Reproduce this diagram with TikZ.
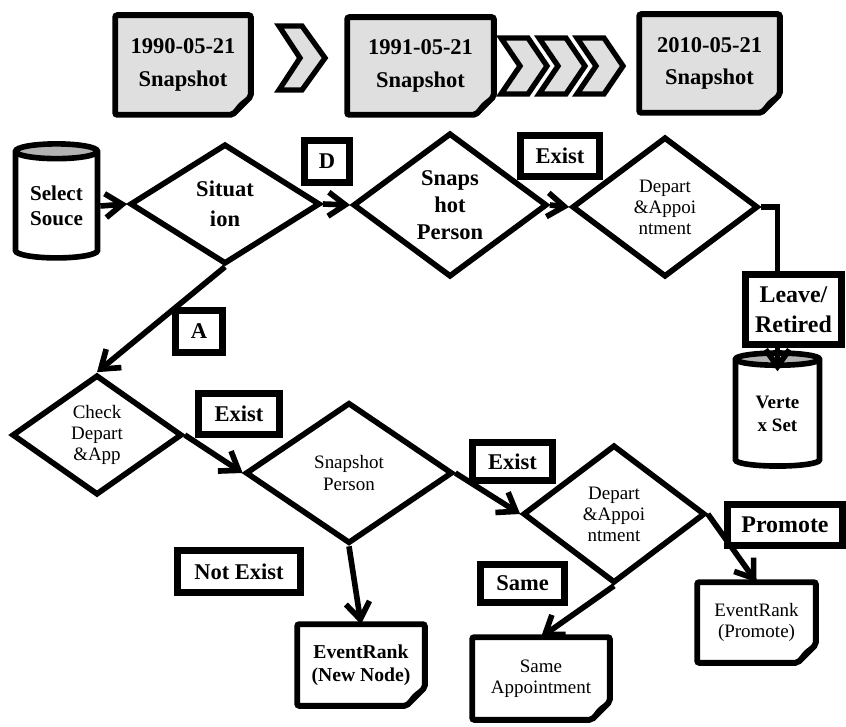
\documentclass[tikz,border=0pt]{standalone}
\usepackage{fontspec}
\setmainfont{Liberation Serif}
\usetikzlibrary{shapes.geometric,arrows.meta,backgrounds}

\newcommand{\snapfont}{\fontsize{16}{23}\selectfont\bfseries}
\newcommand{\tagfont}{\fontsize{16}{19}\selectfont\bfseries}
\newcommand{\bigthin}{\fontsize{17}{21}\selectfont\bfseries}
\newcommand{\thinfont}{\fontsize{13.5}{15}\selectfont}

\tikzstyle{decision} = [draw, diamond, line width=4pt, fill=white,
    inner sep=0pt, align=center]
\tikzstyle{tag} = [draw, rectangle, line width=4.4pt, fill=white,
    inner sep=0pt, align=center, font=\tagfont]
\tikzstyle{doc} = [rectangle, inner sep=0pt, align=center]
\tikzstyle{docline} = [draw, line width=4.2pt, rounded corners=1.5pt]
\tikzstyle{store} = [draw, cylinder, shape border rotate=90, aspect=0.28,
    line width=4pt, cylinder uses custom fill, cylinder end fill=gray!60,
    cylinder body fill=white, inner sep=0pt, align=center]
\tikzstyle{chev} = [draw, line width=3.8pt, fill=gray!25, line join=miter]
\tikzstyle{flow} = [line width=4pt, -{Straight Barb[length=12pt,width=17pt]}]
\tikzstyle{wire} = [line width=4pt]

% frame with folded corner behind a doc node
\newcommand{\docframe}[2]{%
  \draw[docline, fill=#2] (#1.north west) -- (#1.north east)
    -- ([yshift=13pt]#1.south east) -- ([xshift=-13pt]#1.south east)
    -- (#1.south west) -- cycle;
  \fill ([yshift=13pt]#1.south east)
    .. controls ([shift={(-6pt,12pt)}]#1.south east) and ([shift={(-12pt,6pt)}]#1.south east)
    .. ([xshift=-13pt]#1.south east) -- cycle;}

\begin{document}
\begin{tikzpicture}[x=0.025cm, y=-0.025cm]
\useasboundingbox (0,0) rectangle (846,727);

% timeline of snapshots
\node[doc, font=\snapfont, minimum width=3.375cm, minimum height=2.475cm] (snap1) at (183,65) {1990-05-21\\Snapshot};
\node[doc, font=\snapfont, minimum width=3.65cm, minimum height=2.425cm] (snap2) at (420.5,66) {1991-05-21\\Snapshot};
\node[doc, font=\snapfont, minimum width=3.5cm, minimum height=2.45cm] (snap3) at (709.5,63.5) {2010-05-21\\Snapshot};

\draw[chev] (279,26) -- ++(23,0) -- ++(23,32) -- ++(-23,32) -- ++(-23,0) -- ++(21,-32) -- cycle;
\foreach \x in {501,539,577}
  \draw[chev] (\x,38) -- ++(27,0) -- ++(19,28) -- ++(-19,28) -- ++(-27,0) -- ++(19,-28) -- cycle;

% upper row
\node[store, minimum width=2.05cm, minimum height=2.85cm, font=\fontsize{15}{17.5}\selectfont\bfseries] (src) at (56.5,206) {Select\\Souce};
\node[decision, minimum width=4.75cm, minimum height=3cm, font=\fontsize{16}{21}\selectfont\bfseries] (sit) at (225,204) {Situat\\ion};
\node[decision, minimum width=4.85cm, minimum height=3.6cm, font=\fontsize{16}{19}\selectfont\bfseries] (sp1) at (450,205) {Snaps\\hot\\Person};
\node[decision, minimum width=4.65cm, minimum height=3.5cm, font=\thinfont] (da1) at (665,207) {Depart\\\&Appoi\\ntment};

\node[tag, minimum width=1.125cm, minimum height=1.05cm] (tD) at (327,161.5) {D};
\node[tag, minimum width=1.975cm, minimum height=1.025cm] (tex1) at (560,156) {Exist};
\node[tag, minimum width=2.4cm, minimum height=1.75cm, font=\bigthin] (leave) at (793.5,309.5) {Leave/\\Retired};
\node[store, minimum width=2.1cm, minimum height=2.825cm, font=\fontsize{13.5}{16}\selectfont\bfseries] (vs) at (777.5,414) {Verte\\x Set};

% lower row
\node[tag, minimum width=1.175cm, minimum height=1.05cm] (tA) at (199,331.5) {A};
\node[decision, minimum width=4.25cm, minimum height=3cm, font=\thinfont] (chk) at (97,435) {Check\\Depart\\\&App};
\node[tag, minimum width=2.025cm, minimum height=1.025cm] (tex2) at (239,414) {Exist};
\node[decision, minimum width=5.175cm, minimum height=3.525cm, font=\thinfont] (sp2) at (349,473) {Snapshot\\Person};
\node[tag, minimum width=3.075cm, minimum height=1.05cm] (tnot) at (239,571.5) {Not Exist};
\node[tag, minimum width=2cm, minimum height=0.95cm] (tex3) at (512.5,461.5) {Exist};
\node[decision, minimum width=4.55cm, minimum height=3.45cm, font=\thinfont] (da2) at (614,514) {Depart\\\&Appoi\\ntment};
\node[tag, minimum width=2.1cm, minimum height=0.95cm] (tsame) at (522.5,583.5) {Same};
\node[tag, minimum width=2.875cm, minimum height=1.025cm, font=\bigthin] (tpro) at (785,525) {Promote};

\node[doc, font=\fontsize{14}{16.5}\selectfont\bfseries, minimum width=3.175cm, minimum height=2.025cm] (nn) at (361,665) {EventRank\\(New Node)};
\node[doc, font=\thinfont, minimum width=3.425cm, minimum height=2.05cm] (sa) at (541,678.5) {Same\\Appointment};
\node[doc, font=\thinfont, minimum width=2.95cm, minimum height=2cm] (pr) at (756.5,622.5) {EventRank\\(Promote)};

\begin{scope}[on background layer]
\docframe{snap1}{gray!25}
\docframe{snap2}{gray!25}
\docframe{snap3}{gray!25}
\docframe{nn}{white}
\docframe{sa}{white}
\docframe{pr}{white}
\end{scope}

% connectors
\draw[flow] (src.east) -- (sit.west);
\draw[flow] (sit.east) -- (sp1.west);
\draw[flow] (sp1.east) -- (da1.west);
\draw[wire] (da1.east) -| (vs.north |- leave.north);
\draw[flow] (vs.north |- leave.south) -- ([yshift=-15pt]vs.north);
\draw[flow] (sit.south) -- (chk.north);
\draw[flow] (chk.east) -- (sp2.west);
\draw[flow] (sp2.south) -- (nn.north);
\draw[flow] (sp2.east) -- (da2.west);
\draw[flow] (da2.south) -- (sa.north);
\draw[flow] (da2.east) -- (pr.north);
\end{tikzpicture}
\end{document}
